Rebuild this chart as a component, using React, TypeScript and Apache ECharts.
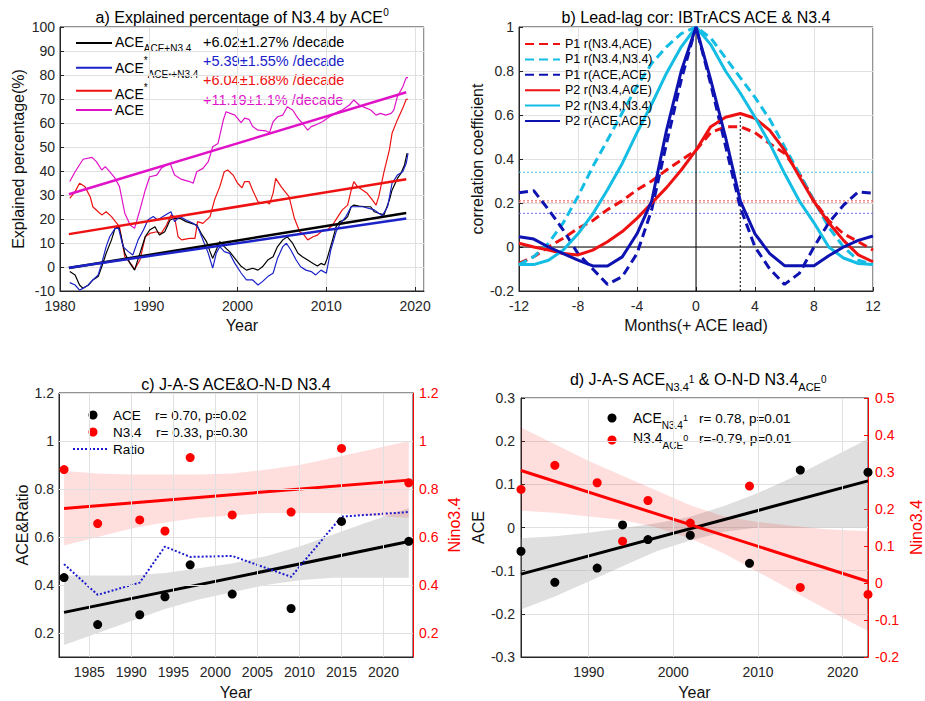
import React, { useEffect, useRef } from 'react';
import * as echarts from 'echarts';

const FONT = "'Liberation Sans', Arial, Helvetica, sans-serif";
const AX = '#262626';
const GRID = '#e0e0e0';

// ---------- Panel a: explained percentage ----------
const aceCurve: [number, number][] = [[1981.1,35.6],[1981.7,39.7],[1982.6,44.9],[1983.6,45.7],[1984.1,43.9],[1984.7,40.4],[1985.1,41.8],[1985.6,39.7],[1986.2,37],[1986.7,33.5],[1987.3,22.4],[1987.9,17.5],[1988.4,16.1],[1989.0,23.8],[1989.6,32],[1990.1,37.6],[1990.9,38.3],[1991.4,41.1],[1992.0,42.5],[1992.4,43.2],[1992.9,38.3],[1993.7,36.5],[1994.6,35.6],[1995.0,34.9],[1995.4,39.7],[1996.1,41.1],[1996.7,43.9],[1997.2,50.1],[1997.8,51.5],[1998.4,61.3],[1998.7,64.7],[1999.7,63.3],[2000.4,60.2],[2000.8,62],[2001.3,61.5],[2001.7,58.5],[2002.3,57],[2003.2,56.7],[2003.6,56],[2004.0,60.5],[2004.5,62.6],[2005.1,63.3],[2005.6,66.8],[2006.2,65.4],[2006.8,62],[2007.3,59.9],[2007.9,57],[2008.3,58.5],[2008.8,59.2],[2009.6,60.6],[2010.1,62],[2010.7,63.3],[2011.3,64.7],[2011.8,65.4],[2012.6,67.5],[2013.1,69.6],[2013.7,67.5],[2014.3,66.5],[2015.0,65.4],[2015.6,63.3],[2016.1,64],[2016.7,63.3],[2017.3,64],[2017.6,65.4],[2018.0,71],[2018.6,75],[2019.0,78.9],[2019.2,78.9]];
const aceStarCurve: [number, number][] = [[1981.1,28.6],[1981.7,31.4],[1982.2,34.9],[1982.8,33.5],[1983.4,29.3],[1983.7,25.1],[1984.3,23],[1984.7,21.7],[1985.2,23],[1985.8,21],[1986.4,18.2],[1986.7,16.8],[1987.3,4.3],[1988.1,0.8],[1988.4,-1],[1989.0,2.9],[1989.6,12.6],[1990.1,14],[1990.9,14.7],[1991.4,14],[1992.0,17.5],[1992.5,21.7],[1992.9,21],[1993.3,12.6],[1993.7,11.3],[1994.6,11.9],[1995.2,11.9],[1995.5,18.9],[1996.1,18.2],[1996.9,21],[1997.4,27.9],[1998.0,33.5],[1998.5,39.7],[1998.9,40.4],[1999.5,38.3],[2000.0,34.9],[2000.5,33],[2000.8,35.6],[2001.3,35.6],[2001.7,32],[2002.3,27.2],[2002.7,26.5],[2003.2,27.2],[2003.6,26.2],[2004.0,30.7],[2004.3,36.9],[2004.9,33.5],[2005.5,30.7],[2005.8,29.3],[2006.4,20.3],[2007.0,14.7],[2007.5,13.3],[2007.9,11.3],[2008.5,12.6],[2009.0,13.3],[2009.6,15.4],[2010.1,15.4],[2010.7,17.5],[2011.3,21],[2011.8,23.8],[2012.4,25.8],[2012.8,32],[2013.1,35.6],[2013.5,33.5],[2014.1,32],[2014.6,30.7],[2015.2,27.9],[2015.6,25.8],[2015.9,29.3],[2016.5,39.7],[2017.1,48.8],[2017.4,55.7],[2018.0,61.3],[2018.6,66.1],[2019.0,69.9],[2019.2,69.9]];
const aceAdjCurve: [number, number][] = [[1981.1,-1.9],[1981.7,-3.3],[1982.2,-7.5],[1982.6,-8.9],[1983.2,-7.5],[1983.7,-5.4],[1984.3,-4],[1984.7,0.1],[1985.2,5.7],[1985.8,11.3],[1986.2,16.1],[1986.6,16.8],[1986.9,12.6],[1987.3,5.7],[1987.9,1.5],[1988.4,-1.3],[1989.0,5.7],[1989.6,12.6],[1990.1,15.4],[1990.7,16.8],[1991.2,13.3],[1991.8,14.7],[1992.4,19.6],[1992.9,20.3],[1993.5,20.3],[1994.2,18.9],[1994.8,18.2],[1995.4,17.5],[1995.9,14],[1996.5,10.6],[1996.9,6.4],[1997.2,3.6],[1997.6,7.1],[1998.0,10.6],[1998.5,8.5],[1999.1,6.4],[1999.7,3.6],[2000.4,0.3],[2001.0,-1.3],[2001.7,-0.5],[2002.3,-1.3],[2002.8,0.1],[2003.4,2.9],[2004.0,4.3],[2004.5,8.5],[2005.1,11.3],[2005.6,12.6],[2006.2,9.9],[2006.8,5.7],[2007.3,4.3],[2007.9,2.9],[2008.5,1.5],[2009.0,0.4],[2009.4,1.5],[2009.8,0.8],[2010.1,3.6],[2010.7,11.3],[2011.1,16.8],[2011.5,18.9],[2012.0,19.6],[2012.4,21],[2012.8,25.1],[2013.1,25.8],[2013.7,25.4],[2014.4,25.1],[2015.0,25.1],[2015.4,23],[2015.9,22.4],[2016.5,21.7],[2017.1,27.9],[2017.4,32],[2018.0,36.9],[2018.4,39],[2018.8,42.5],[2019.1,47.4]];
const aceStarAdjCurve: [number, number][] = [[1981.1,-6.5],[1981.7,-7.5],[1982.2,-9.6],[1982.6,-8.9],[1983.2,-7.5],[1983.7,-5.4],[1984.3,-3.3],[1984.7,1.5],[1985.2,8.5],[1985.6,12.6],[1986.2,16.1],[1986.6,16.1],[1987.1,8.5],[1987.7,6.4],[1988.2,5],[1988.8,11.3],[1989.4,15.4],[1989.9,19.6],[1990.5,21],[1991.0,19.6],[1991.6,21],[1992.2,22.4],[1992.5,23],[1992.9,18.9],[1993.5,21],[1994.2,19.6],[1995.0,18.2],[1995.5,16.8],[1996.1,11.3],[1996.7,5.7],[1997.2,-0.5],[1997.6,5.7],[1998.0,8.5],[1998.5,6.4],[1999.1,5.7],[1999.7,1.5],[2000.4,-2.5],[2001.0,-5.4],[2001.7,-5.4],[2002.3,-7.5],[2002.8,-6.1],[2003.4,-4],[2004.0,-2.6],[2004.5,3.6],[2005.1,8.5],[2005.5,9.9],[2006.0,7.1],[2006.6,2.9],[2007.1,0.1],[2007.7,-1.3],[2008.3,-1.9],[2008.8,-3.3],[2009.4,-1.3],[2010.0,-2.6],[2010.5,7.1],[2011.1,14.7],[2011.6,18.2],[2012.2,21],[2012.8,25.1],[2013.3,25.1],[2014.1,25.1],[2014.8,24.4],[2015.4,23.8],[2015.9,22.4],[2016.3,21.4],[2016.9,25.1],[2017.4,34.9],[2018.0,38.3],[2018.6,39.7],[2019.0,43.2],[2019.2,47.4]];
const trendYearsA = [1981, 2019];
const aceAdjTrend = [-0.4, 22.5];
const aceStarAdjTrend = [-0.3, 20.2];
const aceStarTrend = [13.7, 36.6];
const aceTrend = [30.3, 72.8];
const slopeLabels = ['+6.02±1.27% /decade', '+5.39±1.55% /decade', '+6.04±1.68% /decade', '+11.19±1.1% /decade'];

// ---------- Panel b: lead-lag correlation ----------
const lags = [-12,-11,-10,-9,-8,-7,-6,-5,-4,-3,-2,-1,0,1,2,3,4,5,6,7,8,9,10,11,12];
const p1NinoAce = [-0.074,-0.044,0.0,0.04,0.085,0.12,0.17,0.21,0.26,0.30,0.35,0.395,0.44,0.52,0.547,0.547,0.52,0.47,0.426,0.335,0.21,0.12,0.06,0.024,-0.014];
const p1NinoNino = [-0.08,-0.044,0.017,0.11,0.23,0.365,0.486,0.61,0.73,0.835,0.91,0.97,1,0.95,0.86,0.77,0.68,0.58,0.456,0.335,0.21,0.09,0.0,-0.06,-0.08];
const p1AceAce = [0.247,0.256,0.17,0.077,-0.03,-0.1,-0.17,-0.135,-0.03,0.17,0.47,0.76,1,0.74,0.46,0.18,0.0,-0.1,-0.17,-0.12,0.0,0.11,0.19,0.25,0.245];
const p2NinoAce = [0.017,0.0,-0.014,-0.03,-0.036,-0.014,0.024,0.07,0.13,0.2,0.27,0.35,0.44,0.547,0.59,0.607,0.585,0.53,0.44,0.32,0.206,0.11,0.03,-0.036,-0.067];
const p2NinoNino = [-0.08,-0.08,-0.06,-0.014,0.06,0.15,0.26,0.38,0.52,0.65,0.79,0.91,1,0.92,0.8,0.7,0.59,0.47,0.335,0.21,0.11,0.0,-0.05,-0.075,-0.08];
const p2AceAce = [0.047,0.036,0.0,-0.03,-0.06,-0.086,-0.086,-0.045,0.06,0.21,0.53,0.8,1,0.76,0.5,0.21,0.06,-0.03,-0.085,-0.085,-0.085,-0.04,0.0,0.03,0.05];
const sigLevels = [0.34, 0.21, 0.203, 0.153];
const sigColors = ['#3cc6ee', '#f05a5a', '#f59a9a', '#6f6fe0'];
const peakLag = 3;
const peakCor = 0.607;

// ---------- Panel c & d: event years ----------
const eventYears = [1982, 1986, 1991, 1994, 1997, 2002, 2009, 2015, 2023];
const aceJAS = [0.431, 0.235, 0.276, 0.351, 0.484, 0.362, 0.302, 0.665, 0.582];
const ninoOND = [0.881, 0.656, 0.671, 0.625, 0.931, 0.692, 0.704, 0.969, 0.826];
const ratioJAS = [0.487, 0.359, 0.41, 0.56, 0.517, 0.521, 0.434, 0.685, 0.704];
const fitYears = [1982, 2023];
const aceFitC = [0.286, 0.581];
const ninoFitC = [0.719, 0.837];
const bandYears = [1982, 1986, 1990, 1994, 1998, 2002, 2006, 2010, 2014, 2018, 2023];
const aceLoC = [0.15, 0.2, 0.25, 0.3, 0.34, 0.37, 0.4, 0.42, 0.43, 0.43, 0.43];
const aceHiC = [0.44, 0.44, 0.44, 0.45, 0.47, 0.49, 0.52, 0.56, 0.61, 0.66, 0.72];
const ninoLoC = [0.565, 0.6, 0.635, 0.66, 0.68, 0.69, 0.7, 0.7, 0.7, 0.69, 0.68];
const ninoHiC = [0.875, 0.865, 0.86, 0.86, 0.86, 0.865, 0.88, 0.9, 0.93, 0.96, 1.0];
const yearTicksC = [1985, 1990, 1995, 2000, 2005, 2010, 2015, 2020];
const valTicksC = [0.2, 0.4, 0.6, 0.8, 1, 1.2];

const aceN34 = [-0.055, -0.127, -0.094, 0.006, -0.028, -0.018, -0.083, 0.133, 0.128];
const ninoACE = [0.253, 0.318, 0.271, 0.113, 0.223, 0.162, 0.262, -0.012, -0.031];
const aceFitD = [-0.108, 0.108];
const ninoFitD = [0.304, 0.004];
const aceLoD = [-0.19, -0.16, -0.125, -0.09, -0.055, -0.03, -0.01, 0.0, 0.0, 0.0, 0.0];
const aceHiD = [-0.025, -0.02, -0.012, -0.002, 0.01, 0.025, 0.05, 0.08, 0.115, 0.155, 0.205];
const ninoLoD = [0.195, 0.19, 0.18, 0.17, 0.15, 0.12, 0.08, 0.03, -0.02, -0.07, -0.13];
const ninoHiD = [0.42, 0.375, 0.33, 0.29, 0.25, 0.21, 0.18, 0.165, 0.155, 0.145, 0.14];
const yearTicksD = [1990, 2000, 2010, 2020];

const zip = (xs: number[], ys: number[]) => xs.map((x, i) => [x, ys[i]]);

const lineS = (name: string, data: any[], color: string, width: number, xi: number, yi: number, type: any = 'solid', z = 2) => ({
  name, type: 'line', data, xAxisIndex: xi, yAxisIndex: yi, symbol: 'none', silent: true, z,
  lineStyle: { color, width, type }, itemStyle: { color },
});

const scatterS = (name: string, data: any[], color: string, xi: number, yi: number) => ({
  name, type: 'scatter', data, xAxisIndex: xi, yAxisIndex: yi, symbol: 'circle', symbolSize: 9, silent: true, z: 5,
  itemStyle: { color, opacity: 1 },
});

const bandS = (name: string, xs: number[], lo: number[], hi: number[], fill: string, xi: number, yi: number) => ({
  name, type: 'custom', xAxisIndex: xi, yAxisIndex: yi, silent: true, z: 1,
  data: [[xs[0], lo[0]]],
  renderItem: (_p: any, api: any) => {
    const pts: number[][] = [];
    for (let i = 0; i < xs.length; i++) pts.push(api.coord([xs[i], hi[i]]));
    for (let i = xs.length - 1; i >= 0; i--) pts.push(api.coord([xs[i], lo[i]]));
    return { type: 'polygon', shape: { points: pts }, style: { fill } };
  },
});

// grid lines for axes whose ticks are custom values
const gridLinesS = (name: string, xi: number, yi: number, xs: number[], ys: number[]) => ({
  name, type: 'line', data: [], xAxisIndex: xi, yAxisIndex: yi, silent: true, z: 0,
  markLine: {
    silent: true, symbol: ['none', 'none'], label: { show: false }, animation: false,
    lineStyle: { color: GRID, width: 1, type: 'solid' },
    emphasis: { disabled: true },
    data: [...xs.map((v) => ({ xAxis: v })), ...ys.map((v) => ({ yAxis: v }))],
  },
});

const plain = (v: number) => String(Math.round(v * 1000) / 1000);

const valueAxis = (o: any) => ({
  type: 'value',
  gridIndex: o.grid,
  position: o.position,
  min: o.min, max: o.max, interval: o.interval,
  name: o.name, nameLocation: 'middle', nameGap: o.nameGap, nameMoveOverlap: false,
  nameTextStyle: { fontSize: 16, fontFamily: FONT, color: o.color || '#111' },
  axisLine: { show: true, onZero: false, lineStyle: { color: o.color || AX, width: 1 } },
  axisTick: { show: true, inside: true, length: 4, lineStyle: { color: o.color || AX }, customValues: o.custom },
  axisLabel: { color: o.color || AX, fontSize: 14, fontFamily: FONT, margin: o.margin ?? 6, customValues: o.custom, showMaxLabel: o.showMax, formatter: plain },
  splitLine: { show: o.split !== false, lineStyle: { color: GRID, width: 1 } },
});

const subRich = {
  m: { fontSize: 14, lineHeight: 24, fontFamily: FONT, fill: '#000' },
  s: { fontSize: 10, lineHeight: 10, verticalAlign: 'bottom', fontFamily: FONT, fill: '#000' },
  ss: { fontSize: 8, lineHeight: 16, verticalAlign: 'bottom', fontFamily: FONT, fill: '#000' },
  p: { fontSize: 10, lineHeight: 10, verticalAlign: 'top', fontFamily: FONT, fill: '#000' },
  pm: { fontSize: 9, lineHeight: 9, verticalAlign: 'middle', fontFamily: FONT, fill: '#000' },
};

const txt = (x: number, y: number, text: string, fill = '#000', fontSize = 13.5) => ({
  type: 'text', x, y, silent: true,
  style: { text, fill, fontSize, fontFamily: FONT, align: 'left', verticalAlign: 'middle' },
});
const richTxt = (x: number, yCenter: number, text: string) => ({
  type: 'text', x, y: yCenter - 12, silent: true,
  style: { text, rich: subRich, fontSize: 14, fontFamily: FONT, fill: '#000', align: 'left', verticalAlign: 'top' },
});
const legLine = (x1: number, x2: number, y: number, stroke: string, lineWidth = 2, lineDash?: number[]) => ({
  type: 'line', silent: true, shape: { x1, y1: y, x2, y2: y }, style: { stroke, lineWidth, lineDash },
});
const dot = (cx: number, cy: number, fill: string) => ({ type: 'circle', silent: true, shape: { cx, cy, r: 4.5 }, style: { fill } });

const RED = '#ee1111';
const CYAN = '#14bde3';
const DBLUE = '#0d12b0';
const ABLUE = '#1a22c8';
const MAG = '#e012c8';

const titleRich = {
  m: { fontSize: 16, lineHeight: 20, fontFamily: FONT, color: '#000' },
  p: { fontSize: 10, lineHeight: 10, verticalAlign: 'top', fontFamily: FONT, color: '#000' },
};
const titleRichD = {
  m: { fontSize: 16, lineHeight: 26, fontFamily: FONT, color: '#000' },
  s: { fontSize: 11, lineHeight: 11, verticalAlign: 'bottom', fontFamily: FONT, color: '#000' },
  p: { fontSize: 10, lineHeight: 10, verticalAlign: 'middle', fontFamily: FONT, color: '#000' },
};

function buildOption(): any {
  const b1 = 'P1 r(N3.4,ACE)', b2 = 'P1 r(N3.4,N3.4)', b3 = 'P1 r(ACE,ACE)';
  const b4 = 'P2 r(N3.4,ACE)', b5 = 'P2 r(N3.4,N3.4)', b6 = 'P2 r(ACE,ACE)';
  const dash: any = [9, 5];
  return {
    animation: false,
    backgroundColor: '#fff',
    textStyle: { fontFamily: FONT },
    title: [
      { text: '{m|a) Explained percentage of N3.4 by ACE}{p|0}', left: 242, top: 7, textAlign: 'center', padding: 0, textStyle: { rich: titleRich, fontSize: 16, fontWeight: 'normal' } },
      { text: 'b) Lead-lag cor: IBTrACS ACE & N3.4', left: 696, top: 7, textAlign: 'center', padding: 0, textStyle: { fontSize: 16, fontWeight: 'normal', color: '#000', fontFamily: FONT, lineHeight: 20 } },
      { text: 'c) J-A-S ACE&O-N-D N3.4', left: 236, top: 374, textAlign: 'center', padding: 0, textStyle: { fontSize: 16, fontWeight: 'normal', color: '#000', fontFamily: FONT, lineHeight: 20 } },
      { text: '{m|d) J-A-S ACE}{s|N3.4}{p|1}{m| & O-N-D N3.4}{s|ACE}{p|0}', left: 698, top: 366, textAlign: 'center', padding: 0, textStyle: { rich: titleRichD, fontSize: 16, fontWeight: 'normal' } },
    ],
    grid: [
      { left: 60, top: 27, width: 364, height: 264, show: true, borderColor: AX, borderWidth: 1, backgroundColor: 'transparent' },
      { left: 519, top: 27, width: 354, height: 264, show: true, borderColor: AX, borderWidth: 1, backgroundColor: 'transparent' },
      { left: 59, top: 393, width: 354, height: 265, show: true, borderColor: AX, borderWidth: 1, backgroundColor: 'transparent' },
      { left: 521, top: 398, width: 353, height: 260, show: true, borderColor: AX, borderWidth: 1, backgroundColor: 'transparent' },
    ],
    xAxis: [
      valueAxis({ grid: 0, position: 'bottom', min: 1980, max: 2021, interval: 10, name: 'Year', nameGap: 26, margin: 8, showMax: false }),
      valueAxis({ grid: 1, position: 'bottom', min: -12, max: 12, interval: 4, name: 'Months(+ ACE lead)', nameGap: 26, margin: 8 }),
      valueAxis({ grid: 2, position: 'bottom', min: 1981.4, max: 2023.5, name: 'Year', nameGap: 27, margin: 8, custom: yearTicksC, split: false }),
      valueAxis({ grid: 3, position: 'bottom', min: 1982, max: 2023, name: 'Year', nameGap: 27, margin: 8, custom: yearTicksD, split: false }),
    ],
    yAxis: [
      valueAxis({ grid: 0, position: 'left', min: -10, max: 100, interval: 10, name: 'Explained percentage(%)', nameGap: 34, margin: 5 }),
      valueAxis({ grid: 1, position: 'left', min: -0.2, max: 1, interval: 0.2, name: 'correlation coefficient', nameGap: 34, margin: 5 }),
      valueAxis({ grid: 2, position: 'left', min: 0.1, max: 1.2, name: 'ACE&Ratio', nameGap: 29, margin: 5, custom: valTicksC, split: false }),
      valueAxis({ grid: 2, position: 'right', min: 0.1, max: 1.2, name: 'Nino3.4', nameGap: 33, margin: 6, color: '#ff0000', split: false, custom: valTicksC }),
      valueAxis({ grid: 3, position: 'left', min: -0.3, max: 0.3, interval: 0.1, name: 'ACE', nameGap: 35, margin: 6 }),
      valueAxis({ grid: 3, position: 'right', min: -0.2, max: 0.5, interval: 0.1, name: 'Nino3.4', nameGap: 40, margin: 7, color: '#ff0000', split: false }),
    ],
    legend: [{
      data: [b1, b2, b3, b4, b5, b6],
      orient: 'vertical', left: 524, top: 36.5, itemWidth: 35, itemHeight: 10, itemGap: 0.4, padding: 0,
      selectedMode: false,
      itemStyle: { opacity: 0, borderWidth: 0 },
      textStyle: { fontSize: 12.5, fontFamily: FONT, color: '#000', lineHeight: 15 },
    }],
    graphic: [
      // panel a legend
      legLine(76, 112, 43, '#000'),
      legLine(76, 112, 67.7, ABLUE),
      legLine(76, 112, 90.7, RED),
      legLine(76, 112, 110, MAG),
      richTxt(115, 41.7, '{m|ACE}{s|ACE+N3.4}'),
      richTxt(115, 67.7, '{m|ACE}{p|*}{s|ACE}{ss|*}{s|+N3.4}'),
      richTxt(115, 94.3, '{m|ACE}{p|*}'),
      richTxt(115, 110, '{m|ACE}'),
      txt(203, 41.7, slopeLabels[0], '#000', 14.5),
      txt(203, 61, slopeLabels[1], ABLUE, 14.5),
      txt(203, 80.3, slopeLabels[2], RED, 14.5),
      txt(203, 100, slopeLabels[3], MAG, 14.5),
      // panel c legend
      dot(93, 415, '#000'),
      dot(93, 432, '#ff0000'),
      legLine(73, 108, 449, '#1a1acc', 2, [2, 2]),
      txt(113, 415, 'ACE'), txt(155, 415, 'r= 0.70, p=0.02'),
      txt(113, 432, 'N3.4'), txt(156, 432, 'r= 0.33, p=0.30'),
      txt(113, 449, 'Ratio'),
      // panel d legend
      dot(612, 418, '#000'),
      dot(612, 440, '#ff0000'),
      richTxt(633, 418.3, '{m|ACE}{s|N3.4}{pm|1}'),
      txt(699, 418.3, 'r= 0.78, p=0.01'),
      richTxt(633, 438.3, '{m|N3.4}{s|ACE}{pm|0}'),
      txt(699, 438.3, 'r=-0.79, p=0.01'),
    ],
    series: [
      // panel a
      lineS('ACE', aceCurve, MAG, 1.2, 0, 0),
      lineS('ACE*', aceStarCurve, RED, 1.2, 0, 0),
      lineS('ACE_ACE+N3.4', aceAdjCurve, '#000', 1.2, 0, 0),
      lineS('ACE*_ACE*+N3.4', aceStarAdjCurve, ABLUE, 1.2, 0, 0),
      lineS('trend ACE_ACE+N3.4', zip(trendYearsA, aceAdjTrend), '#000', 2.5, 0, 0, 'solid', 3),
      lineS('trend ACE*_ACE*+N3.4', zip(trendYearsA, aceStarAdjTrend), ABLUE, 2.5, 0, 0, 'solid', 3),
      lineS('trend ACE*', zip(trendYearsA, aceStarTrend), RED, 2.5, 0, 0, 'solid', 3),
      lineS('trend ACE', zip(trendYearsA, aceTrend), MAG, 2.5, 0, 0, 'solid', 3),
      // panel b reference lines
      ...sigLevels.map((v, i) => lineS('sig' + i, [[-12, v], [12, v]], sigColors[i], 1, 1, 1, [2, 2], 1)),
      lineS('zero-y', [[-12, 0], [12, 0]], '#000', 1, 1, 1, 'solid', 1),
      lineS('zero-x', [[0, -0.2], [0, 1]], '#000', 1, 1, 1, 'solid', 1),
      lineS('peak', [[peakLag, -0.2], [peakLag, peakCor]], '#000', 1, 1, 1, [2, 2], 1),
      // panel b curves
      lineS(b1, zip(lags, p1NinoAce), RED, 3, 1, 1, dash),
      lineS(b2, zip(lags, p1NinoNino), CYAN, 3, 1, 1, dash),
      lineS(b3, zip(lags, p1AceAce), DBLUE, 3, 1, 1, dash),
      lineS(b4, zip(lags, p2NinoAce), RED, 3, 1, 1),
      lineS(b5, zip(lags, p2NinoNino), CYAN, 3, 1, 1),
      lineS(b6, zip(lags, p2AceAce), DBLUE, 3, 1, 1),
      // panel c
      gridLinesS('grid c', 2, 2, yearTicksC, valTicksC),
      bandS('ace band c', bandYears, aceLoC, aceHiC, 'rgba(150,150,150,0.3)', 2, 2),
      bandS('nino band c', bandYears, ninoLoC, ninoHiC, 'rgba(255,0,0,0.13)', 2, 3),
      lineS('ace fit c', zip(fitYears, aceFitC), '#000', 3, 2, 2, 'solid', 3),
      lineS('nino fit c', zip(fitYears, ninoFitC), '#ff0000', 3, 2, 3, 'solid', 3),
      lineS('Ratio', zip(eventYears, ratioJAS), '#1a1acc', 2, 2, 2, [2, 2], 4),
      scatterS('ACE c', zip(eventYears, aceJAS), '#000', 2, 2),
      scatterS('N3.4 c', zip(eventYears, ninoOND), '#ff0000', 2, 3),
      // panel d
      gridLinesS('grid d', 3, 4, yearTicksD, []),
      bandS('ace band d', bandYears, aceLoD, aceHiD, 'rgba(150,150,150,0.3)', 3, 4),
      bandS('nino band d', bandYears, ninoLoD, ninoHiD, 'rgba(255,0,0,0.13)', 3, 5),
      lineS('ace fit d', zip(fitYears, aceFitD), '#000', 3, 3, 4, 'solid', 3),
      lineS('nino fit d', zip(fitYears, ninoFitD), '#ff0000', 3, 3, 5, 'solid', 3),
      scatterS('ACE d', zip(eventYears, aceN34), '#000', 3, 4),
      scatterS('N3.4 d', zip(eventYears, ninoACE), '#ff0000', 3, 5),
    ],
  };
}

export default function App() {
  const ref = useRef<HTMLDivElement>(null);
  useEffect(() => {
    if (!ref.current) return;
    const chart = echarts.init(ref.current, undefined, { renderer: 'svg' });
    chart.setOption(buildOption());
    return () => chart.dispose();
  }, []);
  return <div ref={ref} style={{ position: 'absolute', left: 0, top: 0, width: 925, height: 701, background: '#fff' }} />;
}
